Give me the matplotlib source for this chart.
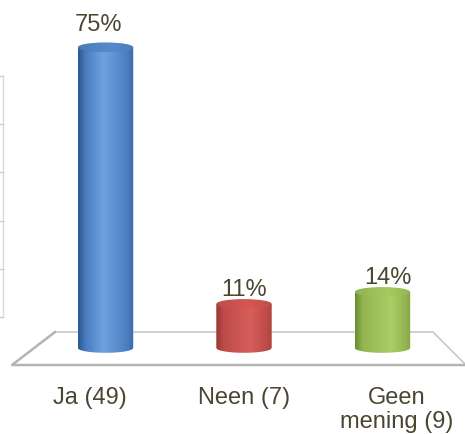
import numpy as np
import matplotlib.pyplot as plt
from matplotlib.patches import Ellipse, PathPatch
from matplotlib.path import Path
from matplotlib.colors import to_rgb

plt.rcParams['font.family'] = ['Liberation Sans', 'DejaVu Sans']

# chart data
categories = ['Ja (49)', 'Neen (7)', 'Geen\nmening (9)']
percentages = [75, 11, 14]

# (dark left, base, highlight, dark right, top) per bar
bar_shades = [
    ('#2c5891', '#4a7cbf', '#6ea3e2', '#3a68a6', '#5083c3'),
    ('#983634', '#bf4c49', '#d65e5b', '#b04340', '#c9524f'),
    ('#6d8d2f', '#94b652', '#abcd66', '#86a744', '#9cbf58'),
]
highlight_at = [0.45, 0.62, 0.66]
label_dx = [-0.05, 0.0, 0.04]   # perspective nudge of value labels
cat_dx = [-0.115, 0.0, 0.10]    # perspective nudge of category labels
text_color = '#4a4632'

W, H = 465, 435
fig = plt.figure(figsize=(W / 100, H / 100), dpi=100)

# background layer in pixel units: floor and faint left axis
bg = fig.add_axes([0, 0, 1, 1], zorder=0)
bg.set_xlim(0, W)
bg.set_ylim(H, 0)
bg.axis('off')
bg.plot([55, 433, 472], [333, 333, 372], color='#c8c8c8', lw=1.2)
bg.plot([55, 12, 470], [333, 366, 366], color='#b4b4b4', lw=1.8)
bg.plot([2.5, 2.5], [77, 318], color='#dadada', lw=1)
for ty in [77, 125, 173, 222, 270, 318]:
    bg.plot([0, 2.5], [ty, ty], color='#cccccc', lw=1)

# main layer: x = category index, y = percent
ax = fig.add_axes([0, 0, 1, 1], zorder=1)
ax.patch.set_visible(False)
ax.axis('off')

bar_w = 0.40
ry = 1.2  # half height of the cylinder ellipses in percent units


def shade_row(colors, stops, n=80):
    rgb = [np.array(to_rgb(c)) for c in colors]
    t = np.linspace(0, 1, n)
    cols = np.stack([np.interp(t, stops, [c[k] for c in rgb]) for k in range(3)],
                    axis=-1)
    return np.clip(cols, 0, 1)[None, :, :]


for i, (val, shades) in enumerate(zip(percentages, bar_shades)):
    x0, x1 = i - bar_w / 2, i + bar_w / 2
    rx = bar_w / 2
    dark, base, light, dark2, top = shades
    hl = highlight_at[i]

    # body: rectangle plus lower half of the bottom ellipse
    xs = np.linspace(x0, x1, 60)
    ys = -ry * np.sqrt(np.clip(1 - ((xs - i) / rx) ** 2, 0, 1))
    verts = [(x0, val)] + list(zip(xs, ys)) + [(x1, val), (x0, val)]
    codes = [Path.MOVETO] + [Path.LINETO] * (len(verts) - 2) + [Path.CLOSEPOLY]
    body = PathPatch(Path(verts, codes), facecolor='none', edgecolor='none')
    ax.add_patch(body)
    im = ax.imshow(shade_row([dark, base, light, base, dark2],
                             [0.0, 0.14, hl, 0.9, 1.0]),
                   extent=[x0, x1, -ry, val], aspect='auto',
                   interpolation='bilinear', zorder=2)
    im.set_clip_path(body)

    # top cap
    tc = np.array(to_rgb(top))
    cap = Ellipse((i, val), bar_w, 2 * ry, facecolor='none', edgecolor='none')
    ax.add_patch(cap)
    im2 = ax.imshow(shade_row([tc * 0.93, tc, np.clip(tc * 1.06, 0, 1), tc * 0.95],
                              [0.0, 0.3, 0.6, 1.0]),
                    extent=[x0, x1, val - ry, val + ry], aspect='auto',
                    interpolation='bilinear', zorder=3)
    im2.set_clip_path(cap)

    # value label
    gap = 1.9 if val > 50 else -0.3
    ax.text(i + label_dx[i], val + ry + gap, f'{val}%', ha='center', va='bottom',
            fontsize=17, color=text_color, zorder=4)

    # category label
    ax.text(i + cat_dx[i], -9.6, categories[i], ha='center', va='top',
            fontsize=17, color=text_color, linespacing=1.1, zorder=4)

# map category index / percent onto the canvas
px_per_cat = 138.5
px_per_pct = 4.01
x_first = 105.5
base_from_bottom = 86
ax.set_xlim(-x_first / px_per_cat, (W - x_first) / px_per_cat)
ax.set_ylim(-base_from_bottom / px_per_pct, (H - base_from_bottom) / px_per_pct)

fig.savefig('out.png', dpi=100)
